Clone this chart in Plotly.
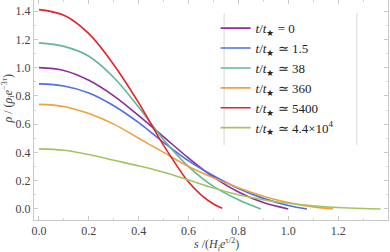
import plotly.graph_objects as go

# s / (H_i e^{tau/2}) sample positions and density profiles
labels = ["<i>t</i>/<i>t</i><sub>★</sub> = 0",
          "<i>t</i>/<i>t</i><sub>★</sub> ≃ 1.5",
          "<i>t</i>/<i>t</i><sub>★</sub> ≃ 38",
          "<i>t</i>/<i>t</i><sub>★</sub> ≃ 360",
          "<i>t</i>/<i>t</i><sub>★</sub> ≃ 5400",
          "<i>t</i>/<i>t</i><sub>★</sub> ≃ 4.4×10<sup>4</sup>"]
colors = ["#8E2C9C", "#4D6FE0", "#63B59C", "#EFA040", "#E1242A", "#A3C462"]

s_0 = [0.0, 0.1, 0.2, 0.3, 0.4, 0.5, 0.6, 0.7, 0.8, 0.9, 1.0]
rho_0 = [1.0, 0.98, 0.91, 0.80, 0.66, 0.51, 0.36, 0.225, 0.12, 0.045, 0.0]

s_1 = [0.0, 0.1, 0.2, 0.3, 0.4, 0.5, 0.6, 0.7, 0.8, 0.9, 1.0, 1.075]
rho_1 = [0.885, 0.87, 0.82, 0.73, 0.61, 0.47, 0.34, 0.235, 0.145, 0.075, 0.025, 0.0]

s_2 = [0.0, 0.1, 0.2, 0.3, 0.4, 0.5, 0.6, 0.7, 0.8, 0.89]
rho_2 = [1.175, 1.15, 1.08, 0.93, 0.72, 0.49, 0.30, 0.16, 0.065, 0.0]

s_3 = [0.0, 0.1, 0.2, 0.3, 0.4, 0.5, 0.6, 0.7, 0.8, 0.9, 1.0, 1.1, 1.18]
rho_3 = [0.74, 0.725, 0.675, 0.60, 0.50, 0.40, 0.30, 0.22, 0.15, 0.09, 0.045, 0.015, 0.0]

s_4 = [0.0, 0.1, 0.2, 0.3, 0.4, 0.5, 0.6, 0.65, 0.7, 0.735]
rho_4 = [1.41, 1.37, 1.24, 1.02, 0.75, 0.45, 0.19, 0.10, 0.035, 0.005]

s_5 = [0.0, 0.1, 0.2, 0.3, 0.4, 0.5, 0.6, 0.7, 0.8, 0.9, 1.0, 1.1, 1.2, 1.3, 1.37]
rho_5 = [0.425, 0.415, 0.385, 0.345, 0.305, 0.26, 0.205, 0.148, 0.10, 0.065, 0.04, 0.022, 0.01, 0.003, 0.0]

xs = [s_0, s_1, s_2, s_3, s_4, s_5]
ys = [rho_0, rho_1, rho_2, rho_3, rho_4, rho_5]

x_ticks = [0.0, 0.2, 0.4, 0.6, 0.8, 1.0, 1.2]
y_ticks = [0.0, 0.2, 0.4, 0.6, 0.8, 1.0, 1.2, 1.4]

SERIF = "Liberation Serif, Times New Roman, serif"

fig = go.Figure()
for x, y, name, c in zip(xs, ys, labels, colors):
    fig.add_trace(go.Scatter(x=x, y=y, mode="lines", name=name,
                             line=dict(color=c, width=1.6, shape="spline", smoothing=1.0)))

axis_common = dict(showgrid=False, zeroline=False, showline=True, linecolor="#c8c8c8",
                   linewidth=1, mirror="allticks", ticks="inside", ticklen=4,
                   tickcolor="#c8c8c8", tickwidth=1,
                   minor=dict(ticks="inside", ticklen=2, tickcolor="#d4d4d4", nticks=5),
                   tickfont=dict(family=SERIF, size=12, color="#444"))

fig.update_xaxes(range=[-0.02, 1.40], tickvals=x_ticks,
                 ticktext=[f"{v:.1f}" for v in x_ticks], **axis_common)
fig.update_yaxes(range=[-0.078, 1.478], tickvals=y_ticks,
                 ticktext=[f"{v:.1f}" for v in y_ticks], **axis_common)

# axis titles
fig.add_annotation(text="<i>s</i> /(<i>H</i><sub><i>i</i></sub><i>e</i><sup>τ/2</sup>)",
                   xref="paper", yref="paper", x=0.515, y=-0.112, xanchor="center", yanchor="middle",
                   showarrow=False, font=dict(family=SERIF, size=12, color="#444"))
fig.add_annotation(text="<i>ρ</i> / (<i>ρ</i><sub><i>i</i></sub><i>e</i><sup>−3<i>τ</i></sup>)",
                   xref="paper", yref="paper", x=-0.072, y=0.55, xanchor="center", yanchor="middle",
                   textangle=-90, showarrow=False, font=dict(family=SERIF, size=12, color="#444"))

# legend frame (vertical rules at left and right of the legend box)
for xp in [0.537, 0.912]:
    fig.add_shape(type="line", xref="paper", yref="paper", x0=xp, x1=xp, y0=0.34, y1=0.94,
                  line=dict(color="#d8d8d8", width=1))

fig.update_layout(
    width=390, height=252,
    margin=dict(l=34, r=2, t=0, b=32, autoexpand=False),
    paper_bgcolor="white", plot_bgcolor="white",
    showlegend=True,
    legend=dict(x=0.513, y=0.94, xanchor="left", yanchor="top",
                bgcolor="rgba(0,0,0,0)", borderwidth=0,
                font=dict(family=SERIF, size=13, color="#222"),
                tracegroupgap=0, itemwidth=30),
)

fig.write_html("out.html", config={"displayModeBar": False},
               post_script="document.body.style.margin='0';document.body.style.padding='0';")
